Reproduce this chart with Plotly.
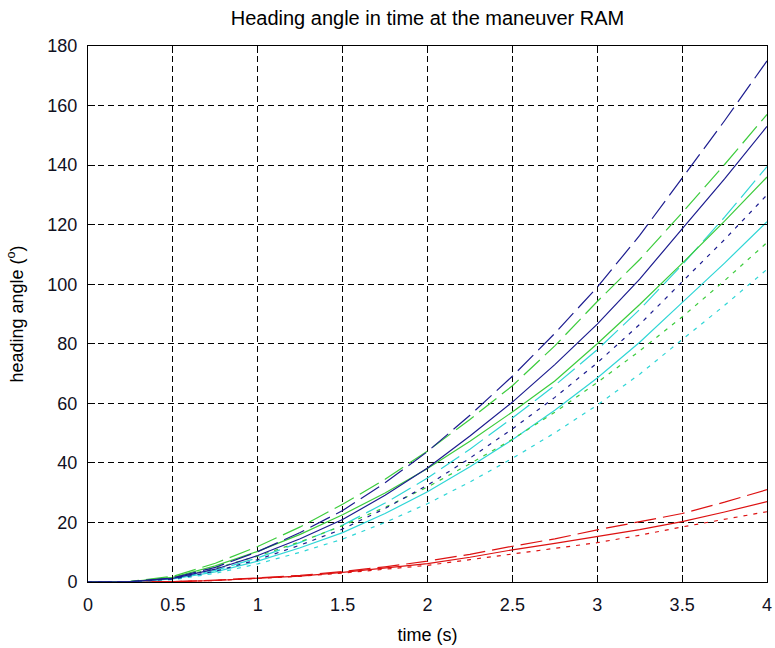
import plotly.graph_objects as go

# time samples (s)
time_s = [0, 0.25, 0.5, 0.75, 1.0, 1.25, 1.5, 1.75, 2.0, 2.25, 2.5, 2.75, 3.0, 3.25, 3.5, 3.75, 4.0]

# heading angle (deg)
blue_long = [0, 0.1, 1.4, 4.9, 10.2, 16.6, 24.0, 33.3, 43.8, 56.0, 69.1, 83.5, 99.0, 116.4, 135.6, 154.9, 175.0]
blue_solid = [0, 0.1, 1.2, 4.3, 8.9, 14.5, 21.0, 29.1, 38.3, 49.0, 60.4, 73.0, 86.6, 101.7, 118.6, 135.4, 153.0]
blue_short = [0, 0.1, 1.0, 3.6, 7.5, 12.4, 17.8, 24.7, 32.5, 41.6, 51.4, 62.0, 73.6, 86.5, 100.8, 115.0, 130.0]

green_long = [0, 0.2, 1.9, 6.3, 11.9, 18.5, 26.1, 34.5, 44.0, 54.6, 65.9, 79.3, 94.2, 108.3, 124.0, 140.2, 157.0]
green_solid = [0, 0.1, 1.6, 5.4, 10.3, 16.0, 22.6, 29.9, 38.1, 47.3, 57.1, 67.5, 80.0, 93.2, 107.0, 121.2, 136.0]
green_short = [0, 0.1, 1.4, 4.6, 8.7, 13.5, 18.9, 25.1, 31.9, 39.7, 47.9, 57.0, 67.0, 77.6, 89.0, 101.2, 114.0]

cyan_long = [0, 0.1, 1.1, 3.9, 8.1, 13.3, 19.1, 26.5, 34.9, 44.6, 55.1, 66.0, 78.0, 91.5, 106.5, 122.5, 139.5]
cyan_solid = [0, 0.1, 1.0, 3.4, 7.0, 11.5, 16.6, 23.0, 30.3, 38.7, 47.8, 57.7, 68.5, 80.5, 93.8, 107.1, 121.0]
cyan_short = [0, 0.1, 0.8, 2.9, 6.1, 10.0, 14.4, 20.0, 26.3, 33.6, 41.5, 50.1, 59.4, 69.8, 81.4, 92.9, 105.0]

red_long = [0, 0, 0.1, 0.6, 1.3, 2.2, 3.5, 5.1, 7.0, 9.3, 12.0, 14.5, 17.5, 20.2, 23.0, 26.8, 31.0]
red_solid = [0, 0, 0.1, 0.5, 1.2, 2.0, 3.2, 4.6, 6.2, 8.3, 10.8, 13.0, 15.2, 17.6, 20.3, 23.5, 27.0]
red_short = [0, 0, 0.1, 0.5, 1.1, 1.9, 3.0, 4.2, 5.6, 7.5, 9.5, 11.3, 13.2, 15.7, 18.5, 21.0, 23.6]

x_ticks = [0, 0.5, 1, 1.5, 2, 2.5, 3, 3.5, 4]
x_tick_labels = ["0", "0.5", "1", "1.5", "2", "2.5", "3", "3.5", "4"]
y_ticks = [0, 20, 40, 60, 80, 100, 120, 140, 160, 180]
y_tick_labels = ["0", "20", "40", "60", "80", "100", "120", "140", "160", "180"]

BLUE = "#1c1c8f"
GREEN = "#3ccc3c"
CYAN = "#2fd6d6"
RED = "#dd1111"
LONG = "22px,7px"
SHORT = "4px,6px"

series = [
    (red_short, RED, SHORT), (red_solid, RED, "solid"), (red_long, RED, LONG),
    (cyan_short, CYAN, SHORT), (cyan_solid, CYAN, "solid"), (cyan_long, CYAN, LONG),
    (green_short, GREEN, SHORT), (green_solid, GREEN, "solid"), (green_long, GREEN, LONG),
    (blue_short, BLUE, SHORT), (blue_solid, BLUE, "solid"), (blue_long, BLUE, LONG),
]

fig = go.Figure()
for vals, col, dash in series:
    fig.add_trace(go.Scatter(x=time_s, y=vals, mode="lines",
                             line=dict(color=col, width=1.2, dash=dash),
                             showlegend=False, hoverinfo="skip"))

FONT = "Liberation Sans, Arial, sans-serif"
axis_common = dict(
    showline=True, linecolor="black", linewidth=1, mirror="ticks",
    ticks="inside", ticklen=7, tickcolor="black", tickwidth=1,
    showgrid=True, gridcolor="black", gridwidth=1, griddash="6px,4px",
    zeroline=False, automargin=False,
    tickfont=dict(family=FONT, size=18, color="#111122"),
)

fig.update_layout(
    width=775, height=648,
    margin=dict(l=88, r=8, t=46, b=66),
    paper_bgcolor="white", plot_bgcolor="white",
    title=dict(text="Heading angle in time at the maneuver RAM",
               font=dict(family=FONT, size=20, color="black"),
               x=(88 + 767) / 2 / 775, xanchor="center",
               y=1 - 18 / 648, yanchor="middle"),
    xaxis=dict(range=[0, 4], tickvals=x_ticks, ticktext=x_tick_labels,
               title=dict(text="time (s)", font=dict(family=FONT, size=18, color="black"), standoff=14),
               ticklabelstandoff=6, **axis_common),
    yaxis=dict(range=[0, 180], tickvals=y_ticks, ticktext=y_tick_labels,
               title=dict(text="heading angle (<sup>o</sup>)", font=dict(family=FONT, size=18, color="black"), standoff=19),
               ticklabelstandoff=6, **axis_common),
)

fig.write_html("out.html",
               config={"displayModeBar": False},
               post_script="document.body.style.margin='0';document.body.style.padding='0';document.body.style.overflow='hidden';")
